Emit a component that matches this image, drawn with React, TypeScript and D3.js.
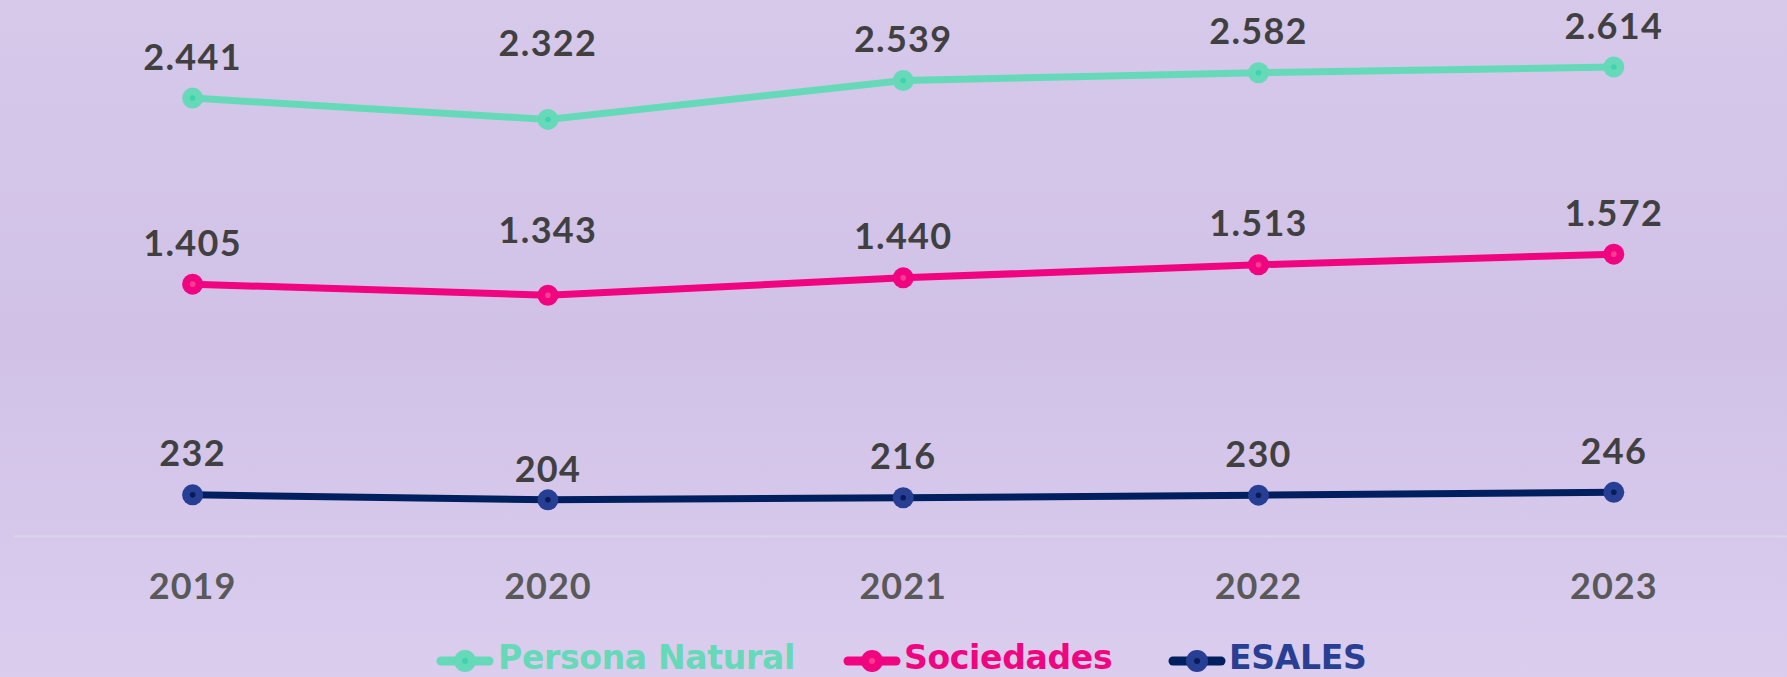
import React from "react";
import * as d3 from "d3";

const width = 1787;
const height = 677;

const years = ["2019", "2020", "2021", "2022", "2023"];
const personaNatural = [2441, 2322, 2539, 2582, 2614];
const sociedades = [1405, 1343, 1440, 1513, 1572];
const esales = [232, 204, 216, 230, 246];

const series = [
  { name: "Persona Natural", values: personaNatural, line: "#66d9b9", dot: "#66d9b9", core: "#3fd3ae", text: "#66d9b9" },
  { name: "Sociedades", values: sociedades, line: "#f0047f", dot: "#f0047f", core: "#ff3d8f", text: "#f0047f" },
  { name: "ESALES", values: esales, line: "#001f5f", dot: "#263f95", core: "#0a1c55", text: "#283f94" }
];

// labels in the 2020 column were moved by hand in the original
const labelLift: Record<string, number> = {
  "Persona Natural": 63,
  Sociedades: 52,
  ESALES: 18
};

// legend slots (symbol centre x, text start x)
const legendSlots = [
  { cx: 465, tx: 498 },
  { cx: 872, tx: 904 },
  { cx: 1197, tx: 1229 }
];

const fmt = d3
  .formatLocale({ decimal: ",", thousands: ".", grouping: [3], currency: ["$", ""] })
  .format(",d");

const font = "Lato, 'Open Sans', sans-serif";
const legendFont = "'DejaVu Sans', Lato, sans-serif";

export default function App() {
  const x = d3.scalePoint<string>().domain(years).range([192.6, 1613.8]);
  const maxVal = d3.max(personaNatural) as number;
  const y = d3.scaleLinear().domain([0, maxVal]).range([536.5, 67]);

  const line = d3
    .line<number>()
    .x((_, i) => x(years[i]) as number)
    .y(d => y(d));

  return (
    <div style={{ position: "fixed", left: 0, top: 0 }}>
      <svg width={width} height={height} style={{ display: "block" }}>
        <defs>
          <linearGradient id="bg" x1="0" y1="0" x2="0" y2="1">
            <stop offset="0" stopColor="#d6c9ea" />
            <stop offset="0.5" stopColor="#d1c1e7" />
            <stop offset="1" stopColor="#dacdee" />
          </linearGradient>
        </defs>
        <rect width={width} height={height} fill="url(#bg)" />

        <line x1={14} x2={width} y1={y(0)} y2={y(0)} stroke="#dcd6e2" strokeWidth={2} />

        {years.map(yr => (
          <text
            key={yr}
            x={x(yr)}
            y={599}
            textAnchor="middle"
            fontFamily={font}
            fontWeight={700}
            fontSize={36}
            letterSpacing={1}
            fill="#595959"
          >
            {yr}
          </text>
        ))}

        {series.map(s => (
          <g key={s.name}>
            <path d={line(s.values) || ""} fill="none" stroke={s.line} strokeWidth={7} />
            {s.values.map((v, i) => (
              <g key={i}>
                <circle cx={x(years[i])} cy={y(v)} r={10.5} fill={s.dot} />
                <circle cx={x(years[i])} cy={y(v)} r={2.8} fill={s.core} />
                <text
                  x={x(years[i])}
                  y={y(v) - (i === 1 ? labelLift[s.name] : 28.5)}
                  textAnchor="middle"
                  fontFamily={font}
                  fontWeight={700}
                  fontSize={36}
                  letterSpacing={1.3}
                  fill="#404040"
                >
                  {fmt(v)}
                </text>
              </g>
            ))}
          </g>
        ))}

        {series.map((s, i) => {
          const slot = legendSlots[i];
          const cy = 661;
          return (
            <g key={s.name}>
              <line x1={slot.cx - 24} x2={slot.cx + 24} y1={cy} y2={cy} stroke={s.line} strokeWidth={9} strokeLinecap="round" />
              <circle cx={slot.cx} cy={cy} r={11} fill={s.dot} />
              <circle cx={slot.cx} cy={cy} r={3} fill={s.core} />
              <text x={slot.tx} y={669} fontFamily={legendFont} fontWeight={700} fontSize={33} letterSpacing={-0.3} fill={s.text}>
                {s.name}
              </text>
            </g>
          );
        })}
      </svg>
    </div>
  );
}
